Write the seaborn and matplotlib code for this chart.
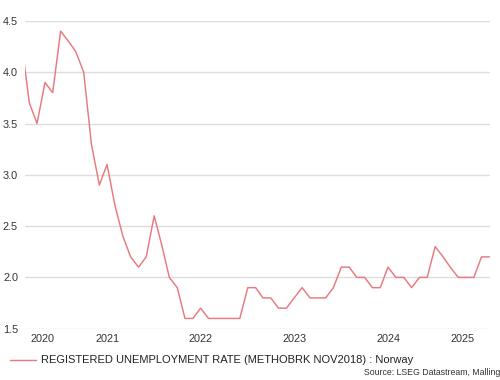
import matplotlib
matplotlib.use("Agg")
import matplotlib.pyplot as plt
import matplotlib.dates as mdates
import numpy as np
import pandas as pd
import seaborn as sns

# monthly registered unemployment rate, Aug 2020 - Mar 2025
start_month = "2020-08-01"
rate = [4.3, 3.7, 3.5, 3.9, 3.8,
        4.4, 4.3, 4.2, 4.0, 3.3, 2.9, 3.1, 2.7, 2.4, 2.2, 2.1, 2.2,
        2.6, 2.3, 2.0, 1.9, 1.6, 1.6, 1.7, 1.6, 1.6, 1.6, 1.6, 1.6,
        1.9, 1.9, 1.8, 1.8, 1.7, 1.7, 1.8, 1.9, 1.8, 1.8, 1.8, 1.9,
        2.1, 2.1, 2.0, 2.0, 1.9, 1.9, 2.1, 2.0, 2.0, 1.9, 2.0, 2.0,
        2.3, 2.2, 2.1, 2.0, 2.0, 2.0, 2.2, 2.2]
years = [2020, 2021, 2022, 2023, 2024, 2025]
y_ticks = [1.5, 2.0, 2.5, 3.0, 3.5, 4.0, 4.5]
series_name = "REGISTERED UNEMPLOYMENT RATE (METHOBRK NOV2018) : Norway"
source = "Source: LSEG Datastream, Malling"

df = pd.DataFrame({"date": pd.date_range(start_month, periods=len(rate), freq="MS"),
                   "rate": rate})

sns.set_theme(style="white")
plt.rcParams["font.family"] = ["Liberation Sans", "DejaVu Sans"]

fig = plt.figure(figsize=(5, 3.8), dpi=100)
ax = fig.add_axes([0.05, 0.135, 0.93, 0.81])

sns.lineplot(data=df, x="date", y="rate", ax=ax, color="#e8797f", linewidth=1.05,
             label=series_name, legend=False)

# x range: clip slightly into the first month, end at last month
x0 = mdates.date2num(df["date"].iloc[0]) + 14
x1 = mdates.date2num(df["date"].iloc[-1]) + 2
ax.set_xlim(x0, x1)
ax.set_ylim(1.5, 4.5)

# year labels centred over the visible part of each year
tick_pos = []
for yr in years:
    a = max(mdates.date2num(pd.Timestamp(f"{yr}-01-01")), x0)
    b = min(mdates.date2num(pd.Timestamp(f"{yr}-12-31")), x1)
    tick_pos.append((a + b) / 2)
ax.set_xticks(tick_pos)
ax.set_xticklabels([str(y) for y in years])
ax.set_yticks(y_ticks)
ax.set_yticklabels([f"{v:.1f}" for v in y_ticks])

ax.tick_params(axis="both", length=0, labelsize=7.8, colors="#333333")
ax.tick_params(axis="x", pad=4)
ax.tick_params(axis="y", pad=5)
ax.grid(axis="y", color="#dddddd", linewidth=1)
ax.grid(axis="x", visible=False)
ax.set_xlabel("")
ax.set_ylabel("")
for s in ax.spines.values():
    s.set_visible(False)

fig.legend(loc="lower left", bbox_to_anchor=(0.0, 0.012), frameon=False,
           fontsize=8.0, handlelength=2.35, handletextpad=0.45, labelcolor="#222222")
fig.text(1.0, 0.008, source, ha="right", va="bottom", fontsize=6.3, color="#333333")

fig.savefig("out.png", dpi=100)
